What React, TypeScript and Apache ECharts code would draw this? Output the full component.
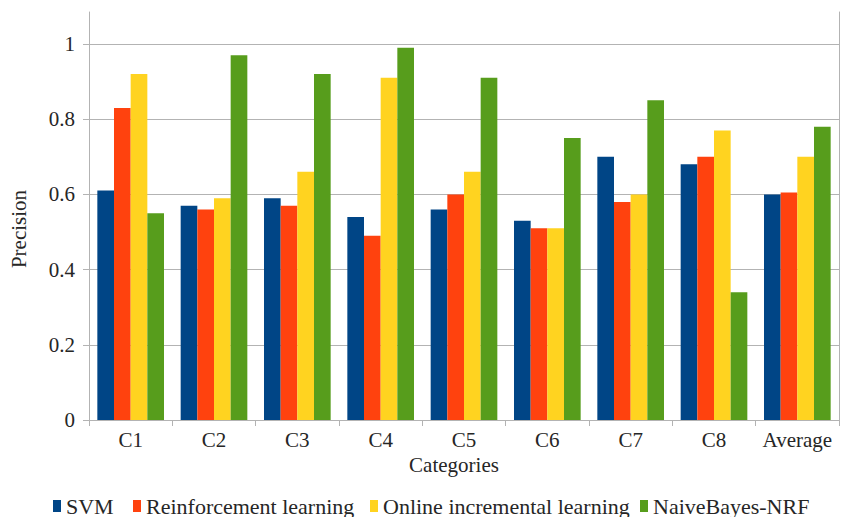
import React, { useEffect, useRef } from "react";
import * as echarts from "echarts";

const categories = ["C1", "C2", "C3", "C4", "C5", "C6", "C7", "C8", "Average"];
const seriesNames = ["SVM", "Reinforcement learning", "Online incremental learning", "NaiveBayes-NRF"];
const svm = [0.61, 0.57, 0.59, 0.54, 0.56, 0.53, 0.70, 0.68, 0.60];
const reinforcement = [0.83, 0.56, 0.57, 0.49, 0.60, 0.51, 0.58, 0.70, 0.605];
const onlineIncremental = [0.92, 0.59, 0.66, 0.91, 0.66, 0.51, 0.60, 0.77, 0.70];
const naiveBayesNRF = [0.55, 0.97, 0.92, 0.99, 0.91, 0.75, 0.85, 0.34, 0.78];
const colors = ["#004586", "#ff420e", "#ffd320", "#579d1c"];
const legendLefts = [53, 133, 370, 640];

const FONT = "Liberation Serif";
const TEXT = "#262626";
const GRAY = "#b3b3b3";

export default function App() {
  const ref = useRef<HTMLDivElement>(null);
  useEffect(() => {
    document.body.style.margin = "0";
    if (!ref.current) return;
    const chart = echarts.init(ref.current, null, { renderer: "svg" });
    const values = [svm, reinforcement, onlineIncremental, naiveBayesNRF];
    chart.setOption({
      animation: false,
      textStyle: { fontFamily: FONT },
      grid: { left: 89, right: 12, top: 12, bottom: 97, containLabel: false },
      legend: seriesNames.map((n, i) => ({
        data: [n],
        left: legendLefts[i],
        top: 495,
        itemWidth: 8,
        itemHeight: 12,
        icon: "rect",
        padding: 0,
        textStyle: { fontFamily: FONT, fontSize: 22, color: TEXT },
      })),
      xAxis: {
        type: "category",
        data: categories,
        name: "Categories",
        nameLocation: "middle",
        nameGap: 32,
        nameTextStyle: { fontFamily: FONT, fontSize: 21, color: TEXT, padding: [0, 20, 0, 0] },
        axisLine: { lineStyle: { color: GRAY, width: 1 } },
        axisTick: { show: true, alignWithLabel: false, length: 6, lineStyle: { color: GRAY } },
        axisLabel: { fontFamily: FONT, fontSize: 21, color: TEXT, margin: 9, interval: 0 },
      },
      yAxis: [
        {
          type: "value",
          min: 0,
          max: 1.085,
          interval: 0.2,
          axisLine: { show: true, lineStyle: { color: GRAY, width: 1 } },
          axisTick: { show: true, length: 6, lineStyle: { color: GRAY } },
          axisLabel: {
            fontFamily: FONT,
            fontSize: 21,
            color: TEXT,
            margin: 14,
            showMaxLabel: false,
            formatter: (v: number) => (v > 1.0001 ? "" : String(Math.round(v * 10) / 10)),
          },
          splitLine: { show: true, showMaxLine: false, showMinLine: false, lineStyle: { color: GRAY, width: 1 } },
        },
        {
          type: "value",
          position: "right",
          min: 0,
          max: 1.085,
          interval: 0.2,
          axisLine: { show: true, lineStyle: { color: GRAY, width: 1 } },
          axisTick: { show: false },
          axisLabel: { show: false },
          splitLine: { show: false },
        },
      ],
      graphic: [
        {
          type: "text",
          x: 19,
          y: 229,
          rotation: Math.PI / 2,
          style: {
            text: "Precision",
            fontFamily: FONT,
            fontSize: 21,
            fill: TEXT,
            textAlign: "center",
            textVerticalAlign: "middle",
          },
        },
      ],
      series: seriesNames.map((n, i) => ({
        name: n,
        type: "bar",
        data: values[i],
        barGap: "0%",
        barCategoryGap: "20%",
        itemStyle: { color: colors[i] },
      })),
    });
    return () => chart.dispose();
  }, []);
  return <div ref={ref} style={{ width: 851, height: 517 }} />;
}
